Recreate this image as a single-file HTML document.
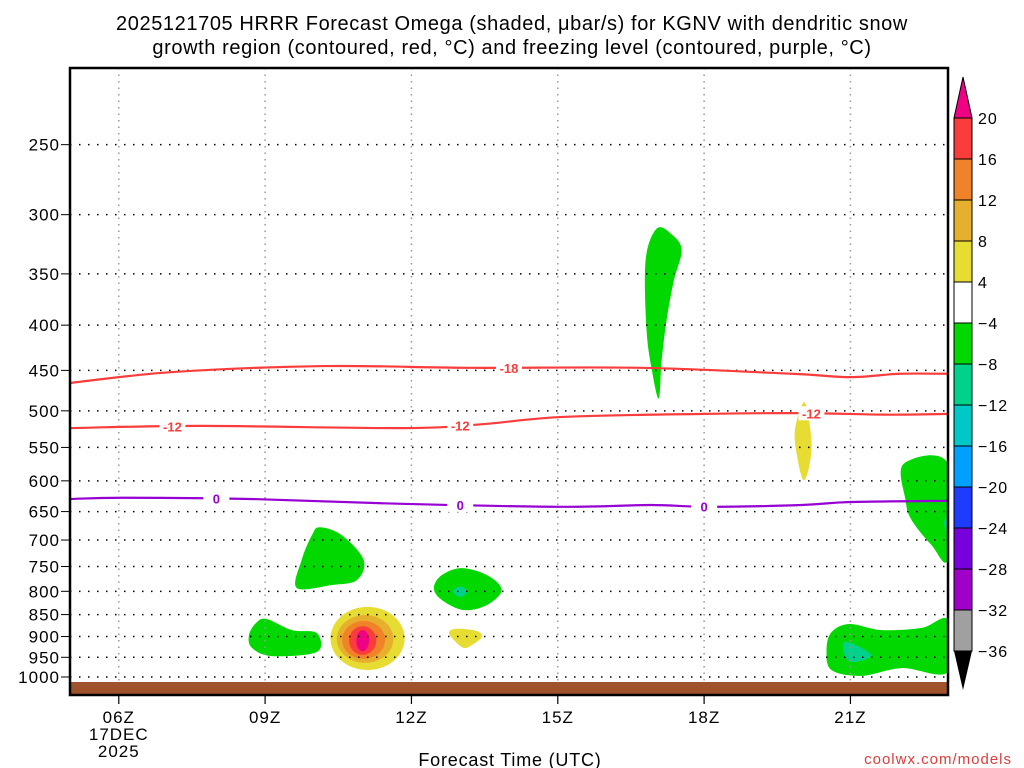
<!DOCTYPE html>
<html><head><meta charset="utf-8"><style>
body{margin:0;background:#fff;}
svg{display:block;font-family:"Liberation Sans","DejaVu Sans",sans-serif;}
</style></head><body>
<svg id="chart" width="1024" height="768" xmlns="http://www.w3.org/2000/svg">
<text x="512" y="30" text-anchor="middle" font-size="20" letter-spacing="0.6">2025121705 HRRR Forecast Omega (shaded, μbar/s) for KGNV with dendritic snow</text>
<text x="512" y="54" text-anchor="middle" font-size="20" letter-spacing="0.6">growth region (contoured, red, °C) and freezing level (contoured, purple, °C)</text>
<g id="plot"></g>
<g id="cbar"></g>
<text x="510" y="766" text-anchor="middle" font-size="18" letter-spacing="0.8">Forecast Time (UTC)</text>
<text x="1012" y="764" text-anchor="end" font-size="15" fill="#e03c3c" letter-spacing="1">coolwx.com/models</text>
</svg>
<script>
const pLevels=[250,300,350,400,450,500,550,600,650,700,750,800,850,900,950,1000];
const xTicks=[6,9,12,15,18,21];
const xTickLabels=["06Z","09Z","12Z","15Z","18Z","21Z"];
const cbLevels=[20,16,12,8,4,-4,-8,-12,-16,-20,-24,-28,-32,-36];
const cbColors=["#fa3c3c","#f08228","#e6af2d","#e6dc32","#ffffff","#00d800","#00d28c","#00c8c8","#00a0ff","#1e3cff","#7800dc","#a000c8","#a0a0a0"];
const tempM18T=[5,7.1,10.2,13.2,16.7,19.8,21,22,23];
const tempM18P=[465,452,445,447,447,454,458,454,454];
const tempM12T=[5,7.7,11.8,13.4,15.1,18,20,21.7,23];
const tempM12P=[523,520,523,518,508,504,503,505,504];
const frzT=[5,6.1,8.7,11.8,15.1,16.9,18.1,20,21,23];
const frzP=[629,627,629,637,642,639,642,639,634,632];
const blobs=[
 {c:"#00d800",t:[17.03,17.34,17.54,17.38,17.23,17.13,17.07,16.93,16.82,16.8],p:[311,316,329,356,395,438,484,450,405,338]},
 {c:"#e6dc32",t:[20.06,20.2,20.16,20.04,19.92,19.86],p:[489,539,576,599,568,526]},
 {c:"#00d800",t:[10.12,10.57,11.02,10.88,10.37,9.65,9.75,9.96],p:[677,691,737,777,787,793,737,691]},
 {c:"#00d800",t:[13.03,13.55,13.85,13.55,13.07,12.62,12.46,12.62],p:[753,767,797,829,840,818,793,767]},
 {c:"#00d28c",t:[13.0,13.15,13.0,12.85],p:[790,800,812,800]},
 {c:"#00d800",t:[9.04,9.55,10.06,10.06,9.14,8.73,8.67,8.83],p:[860,885,892,937,947,927,896,867]},
 {c:"#e6dc32",t:[12.93,13.34,13.44,13.24,13.07,12.87,12.77],p:[882,887,901,920,927,908,890]},
 {c:"#00d800",t:[20.98,21.64,22.46,23,23,22.05,21.23,20.61,20.51,20.61],p:[871,885,880,862,987,977,997,982,932,890]},
 {c:"#00d28c",t:[20.92,21.43,21.02,20.86],p:[912,945,962,937]},
 {c:"#00d800",t:[22.09,23,23,22.66,22.25,22.13],p:[574,574,734,709,664,631]},
 {c:"#00d28c",t:[22.92,23,23],p:[670,655,690]}
];
const hotLevels=[8,12,16,20,24];
const hotColors=["#e6dc32","#e6af2d","#f08228","#fa3c3c","#f00082"];
const hotCenterT=[11.1,11.05,11.02,11.0,11.0];
const hotHalfHours=[0.76,0.58,0.44,0.28,0.13];
const hotPTop=[833,851,864,876,885];
const hotPBot=[982,964,954,944,935];

const L=70,R=948,T=68,B=695,k=384;
const x=t=>L+(t-5)*(R-L)/18;
const y=p=>677+k*Math.log(p/1000);
const NS="http://www.w3.org/2000/svg";
function mk(tag,attrs,parent){const e=document.createElementNS(NS,tag);for(const a in attrs)e.setAttribute(a,attrs[a]);parent.appendChild(e);return e;}
const plot=document.getElementById('plot');
const cbar=document.getElementById('cbar');
function smooth(pts,closed){
 const n=pts.length;let d="M"+pts[0][0]+","+pts[0][1];
 const get=i=>closed?pts[(i+n)%n]:pts[Math.max(0,Math.min(n-1,i))];
 const m=closed?n:n-1;
 for(let i=0;i<m;i++){const p0=get(i-1),p1=get(i),p2=get(i+1),p3=get(i+2);
  d+=" C"+(p1[0]+(p2[0]-p0[0])/6)+","+(p1[1]+(p2[1]-p0[1])/6)+" "+(p2[0]-(p3[0]-p1[0])/6)+","+(p2[1]-(p3[1]-p1[1])/6)+" "+p2[0]+","+p2[1];}
 return d+(closed?"Z":"");
}
// clip
const defs=mk('defs',{},plot);const cp=mk('clipPath',{id:'pc'},defs);mk('rect',{x:L,y:T,width:R-L,height:B-T},cp);
const g=mk('g',{'clip-path':'url(#pc)'},plot);
blobs.forEach((b,i)=>{
 const el=mk('path',{d:smooth(b.t.map((t,j)=>[x(t),y(b.p[j])]),true),fill:b.c},g);
 
 
});
hotLevels.forEach((lv,i)=>{
 const cy=(y(hotPTop[i])+y(hotPBot[i]))/2;
 const el=mk('ellipse',{cx:x(hotCenterT[i]),cy:cy,rx:x(hotCenterT[i]+hotHalfHours[i])-x(hotCenterT[i]),ry:(y(hotPBot[i])-y(hotPTop[i]))/2,fill:hotColors[i]},g);
 
 
});
// grid
xTicks.forEach(t=>{const el=mk('line',{x1:x(t),x2:x(t),y1:T,y2:B,stroke:'#999','stroke-width':1.5,'stroke-dasharray':'1.5 5'},g);
 });
pLevels.forEach(p=>{const el=mk('line',{x1:L,x2:R,y1:y(p),y2:y(p),stroke:'#000','stroke-width':1.5,'stroke-dasharray':'1.5 7.5'},g);
 });
// ground
const gr=mk('rect',{x:L,y:682,width:R-L,height:B-682,fill:'#a0522d'},g);

// contour lines
function contour(ts,ps,col,name,labels,txt){
 const el=mk('path',{d:smooth(ts.map((t,i)=>[x(t),y(ps[i])]),false),fill:'none',stroke:col,'stroke-width':2.2},g);
 
 labels.forEach(t=>{
  let j=0;while(j<ts.length-2&&ts[j+1]<t)j++;
  const f=(t-ts[j])/(ts[j+1]-ts[j]);const py=y(ps[j])+(y(ps[j+1])-y(ps[j]))*f;
  mk('rect',{x:x(t)-13,y:py-7,width:26,height:14,fill:'#fff'},g);
  const tx=mk('text',{x:x(t),y:py+5,'text-anchor':'middle','font-size':13,'font-weight':'bold',fill:col},g);tx.textContent=txt;
  
 });
}
contour(tempM18T,tempM18P,'#fa3c3c','temp-minus18-contour',[14],'-18');
contour(tempM12T,tempM12P,'#fa3c3c','temp-minus12-contour',[7.1,13,20.2],'-12');
contour(frzT,frzP,'#9600d2','freezing-level-contour',[8,13,18],'0');
// frame
mk('rect',{x:L,y:T,width:R-L,height:B-T,fill:'none',stroke:'#000','stroke-width':2.5},plot);
pLevels.forEach(p=>{
 mk('line',{x1:L-9,x2:L,y1:y(p),y2:y(p),stroke:'#000','stroke-width':1},plot);
 const tx=mk('text',{x:L-10,y:y(p)+6,'text-anchor':'end','font-size':17,'letter-spacing':1},plot);tx.textContent=p;
 
});
xTicks.forEach((t,i)=>{
 mk('line',{x1:x(t),x2:x(t),y1:B,y2:B+9,stroke:'#000','stroke-width':1.2},plot);
 const tx=mk('text',{x:x(t),y:723,'text-anchor':'middle','font-size':17,'letter-spacing':1},plot);tx.textContent=xTickLabels[i];
 
});
[["17DEC",740],["2025",757]].forEach(a=>{const tx=mk('text',{x:x(6),y:a[1],'text-anchor':'middle','font-size':17,'letter-spacing':1},plot);tx.textContent=a[0];
 });
// colorbar
const cx0=954,cw=18,cTop=118,cStep=41;
mk('path',{d:`M${cx0},${cTop} L${cx0+cw/2},77 L${cx0+cw},${cTop}Z`,fill:'#f00082',stroke:'#000','stroke-width':1},cbar);
cbColors.forEach((c,i)=>{const el=mk('rect',{x:cx0,y:cTop+i*cStep,width:cw,height:cStep,fill:c,stroke:'#000','stroke-width':1},cbar);
 });
const cBot=cTop+cbColors.length*cStep;
mk('path',{d:`M${cx0},${cBot} L${cx0+cw/2},690 L${cx0+cw},${cBot}Z`,fill:'#000'},cbar);
cbLevels.forEach((v,i)=>{const tx=mk('text',{x:978,y:cTop+i*cStep+6,'font-size':16,'letter-spacing':1},cbar);tx.textContent=v<0?"−"+(-v):v;
 });
</script>
</body></html>
